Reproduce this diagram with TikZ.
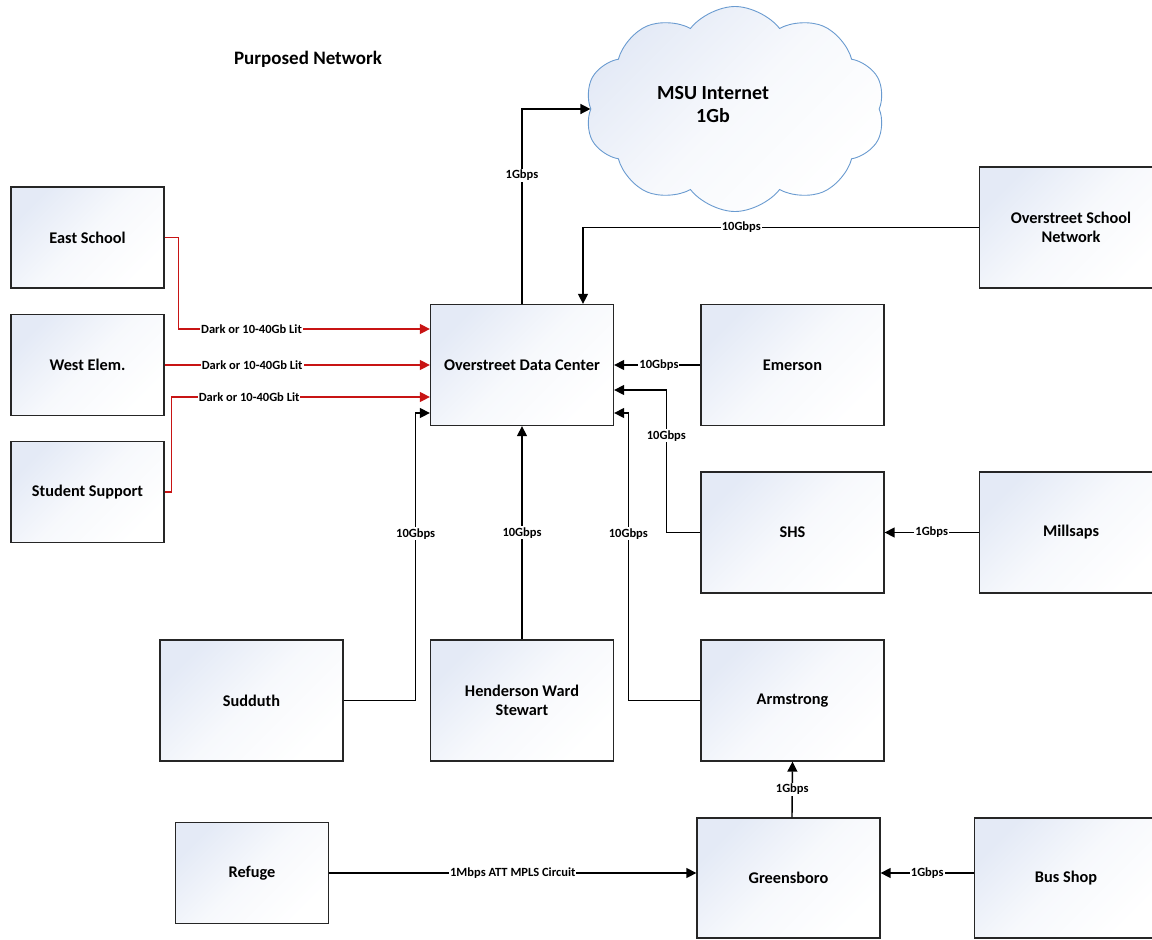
\documentclass[tikz,border=0pt]{standalone}
\usepackage{fontspec}
\setmainfont{Carlito}
\usetikzlibrary{arrows.meta,shapes.symbols}
\definecolor{boxblue}{HTML}{E4EAF6}
\definecolor{cloudblue}{HTML}{6A9BD0}
\definecolor{redline}{HTML}{C81414}
\definecolor{boxline}{HTML}{262626}
\tikzset{
 box/.style={draw=boxline, line width=1.3pt, top color=boxblue, bottom color=white, middle color=boxblue!30!white, shading angle=45, align=center, font=\bfseries\fontsize{16.3}{19}\selectfont, inner sep=0pt},
 bigbox/.style={box, minimum width=183pt, minimum height=121pt},
 smallbox/.style={box, minimum width=153pt, minimum height=101pt},
 conn/.style={line width=1.4pt, -{Triangle[length=10pt,width=10pt]}},
 redconn/.style={conn, draw=redline},
 lbl/.style={fill=white, inner sep=1pt, text=black, font=\bfseries\fontsize{12.5}{14}\selectfont},
}
\begin{document}
\begin{tikzpicture}[x=1pt,y=-1pt]
\useasboundingbox (0,0) rectangle (1152,940);
\node[font=\bfseries\fontsize{19}{22}\selectfont] (title) at (308,59) {Purposed Network};
% cloud
\node[cloud, cloud puffs=10, cloud puff arc=105, aspect=1.45, draw=cloudblue, line width=0.9pt,
  top color=boxblue, bottom color=white, middle color=boxblue!30!white, shading angle=45,
  minimum width=300pt, minimum height=205pt, inner sep=0pt] (cloud) at (735,109) {};
\node[align=center, font=\bfseries\fontsize{20}{23}\selectfont] (msu) at (713,105) {MSU Internet\\1Gb};
% boxes
\node[smallbox] (east) at (87.5,237.5) {East School};
\node[smallbox] (west) at (87.5,365) {West Elem.};
\node[smallbox] (stud) at (87.5,492) {Student Support};
\node[bigbox] (dc) at (522,365) {Overstreet Data Center};
\node[bigbox] (emer) at (792.5,365) {Emerson};
\node[bigbox] (osn) at (1071,227.5) {Overstreet School\\Network};
\node[bigbox] (shs) at (792.5,532.5) {SHS};
\node[bigbox] (mill) at (1071,532.5) {Millsaps};
\node[bigbox] (sudd) at (251.5,700.5) {Sudduth};
\node[bigbox] (hws) at (522,700.5) {Henderson Ward\\Stewart};
\node[bigbox] (arm) at (792.5,700.5) {Armstrong};
\node[bigbox, minimum height=120pt] (gre) at (788.5,878) {Greensboro};
\node[bigbox, minimum height=120pt] (bus) at (1066,878) {Bus Shop};
\node[smallbox] (ref) at (252,873) {Refuge};
% red links
\draw[redconn] (east.east) -- ++(14,0) |- ([yshift=36pt]dc.west) node[lbl, pos=0.645] {Dark or 10-40Gb Lit};
\draw[redconn] (west.east) -- (dc.west) node[lbl, pos=0.33] {Dark or 10-40Gb Lit};
\draw[redconn] (stud.east) -- ++(7,0) |- ([yshift=-32pt]dc.west) node[lbl, pos=0.65] {Dark or 10-40Gb Lit};
% black links
\draw[conn] (sudd.east) -- ++(72,0) |- ([yshift=-48pt]dc.west) node[lbl, pos=0.29] {10Gbps};
\draw[conn] (hws.north) -- (dc.south) node[lbl, pos=0.5] {10Gbps};
\draw[conn] (arm.west) -- ++(-72,0) |- ([yshift=-48pt]dc.east) node[lbl, pos=0.29] {10Gbps};
\draw[conn] (shs.west) -- ++(-34,0) |- ([yshift=-25pt]dc.east) node[lbl, pos=0.34] {10Gbps};
\draw[conn] (emer.west) -- (dc.east) node[lbl, pos=0.48] {10Gbps};
\draw[conn] (osn.west) -| ([xshift=61pt]dc.north) node[lbl, pos=0.3] {10Gbps};
\draw[conn] (dc.north) |- (cloud.west) node[lbl, pos=0.33] {1Gbps};
\draw[conn] (mill.west) -- (shs.east) node[lbl, pos=0.5] {1Gbps};
\draw[conn] ([xshift=3.5pt]gre.north) -- (arm.south) node[lbl, pos=0.5] {1Gbps};
\draw[conn] (ref.east) -- (ref.east -| gre.west) node[lbl, pos=0.5] {1Mbps ATT MPLS Circuit};
\draw[conn] ([yshift=5pt]bus.west) -- ([yshift=5pt]gre.east) node[lbl, pos=0.5] {1Gbps};
\end{tikzpicture}
\end{document}
